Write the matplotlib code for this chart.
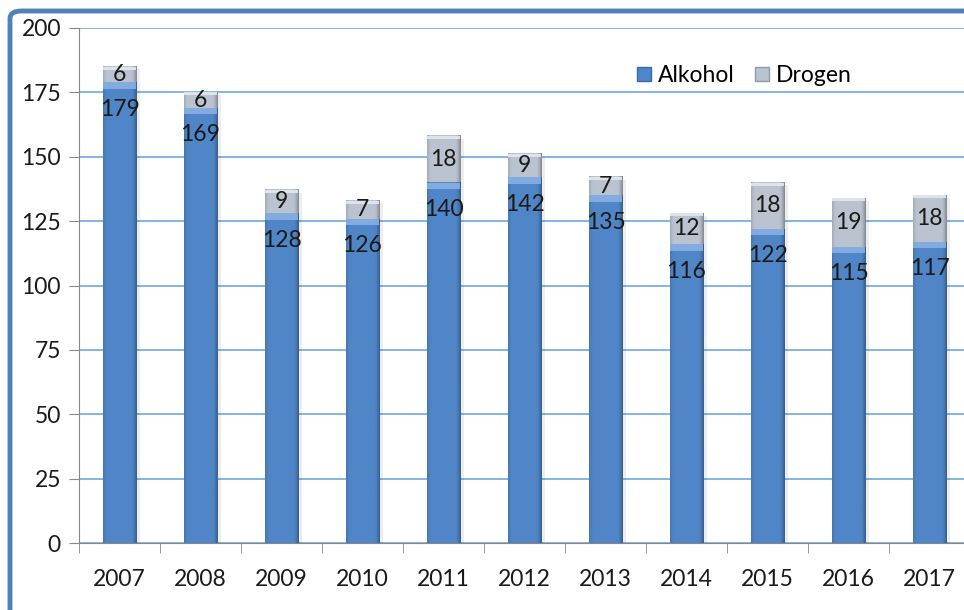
import matplotlib

matplotlib.use("Agg")
import matplotlib.pyplot as plt
import numpy as np
from matplotlib.patches import FancyBboxPatch, Patch

years = ["2007", "2008", "2009", "2010", "2011", "2012", "2013", "2014", "2015", "2016", "2017"]
alkohol = [179, 169, 128, 126, 140, 142, 135, 116, 122, 115, 117]
drogen = [6, 6, 9, 7, 18, 9, 7, 12, 18, 19, 18]
y_ticks = [0, 25, 50, 75, 100, 125, 150, 175, 200]

BLUE = "#5086c7"
GREY = "#bac3cf"
GRID = "#6fa8dc"
TEXT = "#1a1a1a"
FONT = ["Lato", "DejaVu Sans"]

plt.rcParams["font.family"] = FONT

fig = plt.figure(figsize=(9.64, 6.10), dpi=100)
ax = fig.add_axes([79 / 964, 1 - 543 / 610, 891 / 964, 515 / 610])

# blue frame round the chart (only left and top edges visible)
frame = FancyBboxPatch((10 / 964, -0.2), 1.2, 1 - 11 / 610 + 0.2,
                       boxstyle="round,pad=0,rounding_size=0.012",
                       transform=fig.transFigure, facecolor="none",
                       edgecolor="#4f81bd", linewidth=3.5, zorder=0)
fig.patches.append(frame)

x = np.arange(len(years))
width = 0.41


def shade(ax, xc, bottom, top, base):
    # horizontal gradient: darker right edge, slight dark left edge
    rgb = np.array(matplotlib.colors.to_rgb(base))
    t = np.linspace(0, 1, 60)
    f = np.ones_like(t)
    f -= 0.30 * np.clip((t - 0.85) / 0.15, 0, 1) ** 1.5
    f -= 0.12 * np.clip((0.12 - t) / 0.12, 0, 1) ** 1.5
    img = np.clip(rgb[None, :] * f[:, None], 0, 1)[None, :, :]
    ax.imshow(img, extent=(xc - width / 2, xc + width / 2, bottom, top),
              aspect="auto", interpolation="bilinear", zorder=3)


ax.bar(x, alkohol, width, color=BLUE, zorder=2)
ax.bar(x, drogen, width, bottom=alkohol, color=GREY, zorder=2)
for i in range(len(years)):
    # faint shadow right of each bar
    ax.fill_between([x[i] + width / 2, x[i] + width / 2 + 0.05], 0, alkohol[i] + drogen[i] - 1,
                    color="#000000", alpha=0.07, zorder=1, linewidth=0)
    shade(ax, x[i], 0, alkohol[i], BLUE)
    shade(ax, x[i], alkohol[i], alkohol[i] + drogen[i], GREY)
    # light bevel at top of alkohol segment
    ax.fill_between([x[i] - width / 2, x[i] + width / 2], alkohol[i] - 2.5, alkohol[i],
                    color="#8fb6e6", alpha=0.8, zorder=4, linewidth=0)
    ax.fill_between([x[i] - width / 2, x[i] + width / 2],
                    alkohol[i] + drogen[i] - 1.2, alkohol[i] + drogen[i],
                    color="#e4e8ef", alpha=0.9, zorder=4, linewidth=0)

    ax.text(x[i], alkohol[i] - 10.5, str(alkohol[i]), ha="center", va="center",
            fontsize=16.5, color=TEXT, zorder=5)
    ax.text(x[i], alkohol[i] + drogen[i] / 2, str(drogen[i]), ha="center", va="center",
            fontsize=16.5, color=TEXT, zorder=5)

ax.set_xlim(-0.5, len(years) - 0.5)
ax.set_ylim(0, 200)
ax.set_yticks(y_ticks)
ax.set_yticklabels([str(v) for v in y_ticks])
ax.set_xticks(x)
ax.set_xticklabels(years)
ax.set_xticks(np.arange(-0.5, len(years), 1), minor=True)
ax.tick_params(axis="x", which="major", length=0, labelsize=16.5, pad=19, colors=TEXT)
ax.tick_params(axis="x", which="minor", length=7, color="#888888", direction="out")
ax.tick_params(axis="y", length=7, color="#888888", labelsize=16.5, pad=6, colors=TEXT)
ax.yaxis.grid(True, color=GRID, linewidth=1.2, zorder=0)
ax.set_axisbelow(True)

for side in ["top", "right"]:
    ax.spines[side].set_visible(False)
ax.spines["left"].set_color("#888888")
ax.spines["bottom"].set_color("#888888")

handles = [Patch(facecolor=BLUE, edgecolor="#3a6aa5"), Patch(facecolor=GREY, edgecolor="#8f99a8")]
ax.legend(handles, ["Alkohol", "Drogen"], loc="upper left", bbox_to_anchor=(0.603, 0.968),
          ncol=2, frameon=False, fontsize=16.5, handlelength=0.6, handleheight=0.6,
          handletextpad=0.3, columnspacing=0.9)

fig.savefig("out.png", dpi=100)
